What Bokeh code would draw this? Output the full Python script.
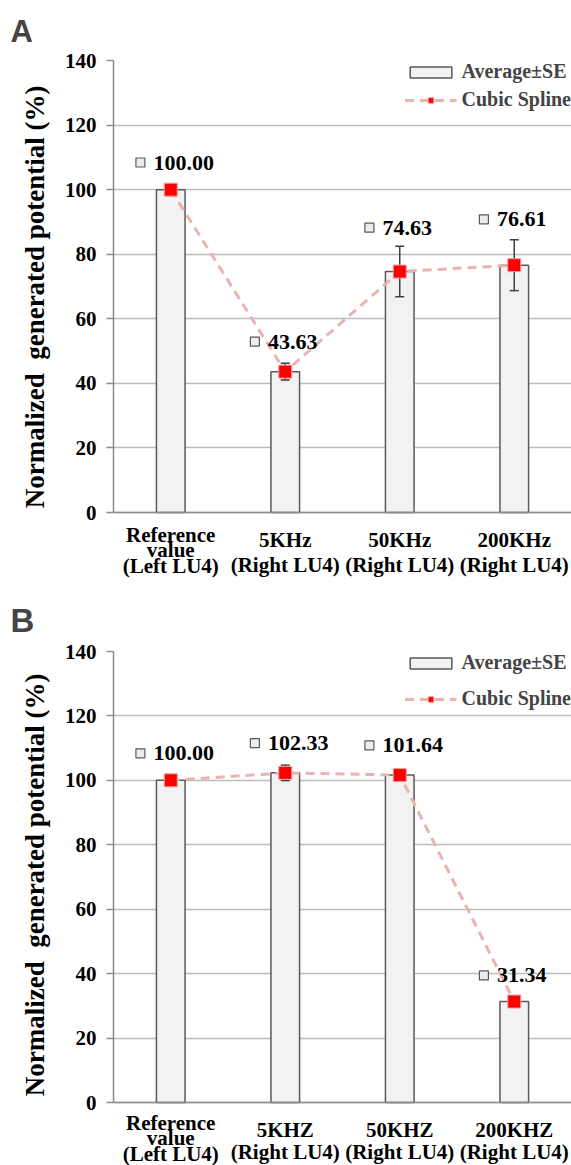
from bokeh.plotting import figure
from bokeh.models import Range1d, FixedTicker, Legend, LegendItem, Label
from bokeh.layouts import column
from bokeh.embed import file_html
from bokeh.resources import INLINE
from bokeh.core.properties import value

# ---------------- data ----------------
categories_a = ["Reference\nvalue\n(Left LU4)", "5KHz\n(Right LU4)",
                "50KHz\n(Right LU4)", "200KHz\n(Right LU4)"]
values_a = [100.00, 43.63, 74.63, 76.61]
se_a = [0.0, 2.6, 7.8, 7.9]

categories_b = ["Reference\nvalue\n(Left LU4)", "5KHZ\n(Right LU4)",
                "50KHZ\n(Right LU4)", "200KHZ\n(Right LU4)"]
values_b = [100.00, 102.33, 101.64, 31.34]
se_b = [0.0, 2.4, 0.4, 0.6]

y_ticks = [0, 20, 40, 60, 80, 100, 120, 140]
y_top = 140
bar_label = "Average±SE"
line_label = "Cubic Spline"
y_title = "Normalized\u00a0 generated potential (%)"

# layout helpers (label lift above point, in data units)
lift_a = [8.4, 9.3, 13.6, 14.2]
lift_b = [8.4, 9.2, 9.2, 8.1]

SERIF = "Liberation Serif"
PAD = "\u00a0" * 7   # nudges the centred axis title upwards


def panel(letter, cats, vals, errs, lifts, height, b_top, plot_px, below_px,
          leg_pad, leg_spacing, title_size, title_standoff, two_line_lh,
          three_off):
    # frame reaches the figure bottom; value 0 sits `below_px` above it
    y_min = -y_top * below_px / plot_px
    p = figure(width=571, height=height, output_backend="svg",
               toolbar_location=None, x_range=Range1d(-0.5, 3.5),
               y_range=Range1d(y_min, y_top), min_border_left=113,
               min_border_right=0, min_border_top=b_top,
               min_border_bottom=0, background_fill_color="white",
               border_fill_color="white")
    p.outline_line_color = None
    xs = list(range(len(vals)))

    bars = p.vbar(x=xs, top=vals, bottom=0, width=0.25,
                  fill_color="#F2F2F2", line_color="#595959", line_width=1.5)

    lo = [v - e for v, e in zip(vals, errs)]
    hi = [v + e for v, e in zip(vals, errs)]
    p.segment(x0=xs, y0=lo, x1=xs, y1=hi, line_color="#404040", line_width=1.5)
    p.scatter(x=xs, y=hi, marker="dash", size=9, line_color="#404040", line_width=1.5)
    p.scatter(x=xs, y=lo, marker="dash", size=9, line_color="#404040", line_width=1.5)

    ln = p.line(x=xs, y=vals, line_color="#E8B4B2", line_width=3, line_dash="9 6")
    mk = p.scatter(x=xs, y=vals, marker="square", size=13, fill_color="#FF0000",
                   line_color="#F0A0A0", line_width=1)

    # data labels with small legend-key squares
    ly = [v + l for v, l in zip(vals, lifts)]
    p.scatter(x=[x - 0.265 for x in xs], y=ly, marker="square", size=9,
              fill_color="#EDEDED", line_color="#595959", line_width=1.2)
    p.text(x=[x - 0.15 for x in xs], y=ly, text=[f"{v:.2f}" for v in vals],
           text_font=value(SERIF), text_font_style="bold",
           text_font_size="22px", text_baseline="middle", text_align="left",
           text_color="black")

    legend = Legend(items=[LegendItem(label=bar_label, renderers=[bars]),
                           LegendItem(label=line_label, renderers=[ln, mk])],
                    location="top_right", margin=0, padding=leg_pad,
                    spacing=leg_spacing, glyph_width=52, glyph_height=14,
                    label_height=20, label_standoff=5,
                    label_text_font=SERIF, label_text_font_style="bold",
                    label_text_font_size="20px", background_fill_alpha=0,
                    border_line_color=None)
    p.add_layout(legend)

    # category labels under the axis
    for i, c in enumerate(cats):
        n = c.count("\n") + 1
        p.add_layout(Label(x=i, y=0, y_offset=three_off if n == 3 else -15,
                           text=c, text_align="center", text_baseline="top",
                           text_font=SERIF, text_font_style="bold",
                           text_font_size="21px", text_color="black",
                           text_line_height=0.65 if n == 3 else two_line_lh))

    # axes
    p.xaxis.fixed_location = 0
    p.xaxis.ticker = FixedTicker(ticks=[])
    p.xaxis.major_tick_out = 0
    p.xaxis.major_tick_in = 0
    p.xaxis.minor_tick_line_color = None

    p.yaxis.bounds = (0, y_top)
    p.yaxis.ticker = FixedTicker(ticks=y_ticks)
    p.yaxis.major_tick_out = 7
    p.yaxis.major_tick_in = 0
    p.yaxis.minor_tick_line_color = None
    p.yaxis.major_label_standoff = 10
    p.yaxis.axis_label = PAD + y_title
    p.yaxis.axis_label_standoff = 12
    p.yaxis.axis_label_text_font = SERIF
    p.yaxis.axis_label_text_font_style = "bold"
    p.yaxis.axis_label_text_font_size = "27px"
    p.yaxis.axis_label_text_color = "black"

    for ax in (p.xaxis, p.yaxis):
        ax.axis_line_color = "#8C8C8C"
        ax.axis_line_width = 1.5
        ax.major_tick_line_color = "#8C8C8C"
        ax.major_tick_line_width = 1.5
        ax.major_label_text_font = SERIF
        ax.major_label_text_font_style = "bold"
        ax.major_label_text_font_size = "21px"
        ax.major_label_text_color = "black"

    p.xgrid.grid_line_color = None
    p.ygrid.grid_line_color = "#BDBDBD"
    p.ygrid.grid_line_width = 1.5

    p.title.text = letter
    p.title.text_font = "Liberation Sans"
    p.title.text_font_style = "bold"
    p.title.text_font_size = title_size
    p.title.align = "left"
    p.title.offset = -103
    p.title.standoff = title_standoff
    return p


pa = panel("A", categories_a, values_a, se_a, lift_a, 580, 60, 452, 68,
           11, 5, "31px", 23, 1.08, -10)
pb = panel("B", categories_b, values_b, se_b, lift_b, 585, 71, 451, 63,
           5, 13, "33px", 25, 0.95, -8)

layout = column(pa, pb, spacing=0)
open("out.html", "w").write(file_html(layout, INLINE))
